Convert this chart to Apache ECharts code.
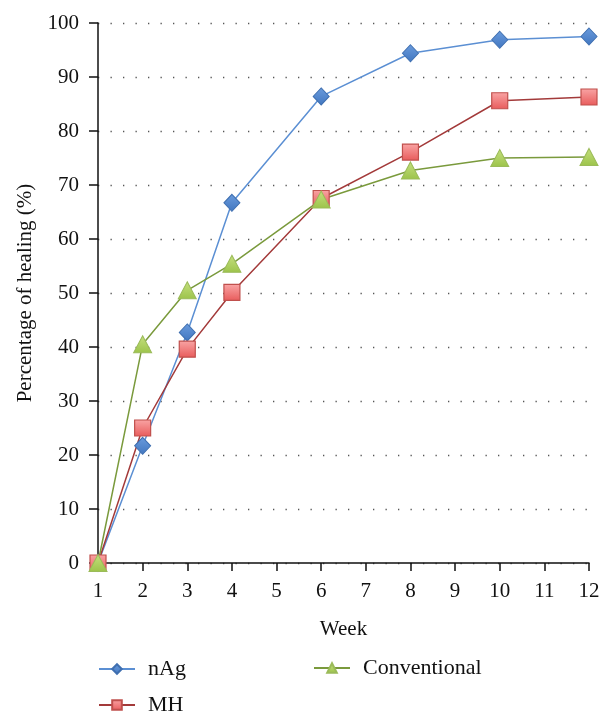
<!DOCTYPE html>
<html><head><meta charset="utf-8">
<script src="https://cdn.jsdelivr.net/npm/echarts@6/dist/echarts.min.js"></script>
<style>html,body{margin:0;padding:0;background:#fff}#c{width:612px;height:721px}</style>
</head><body><div id="c"></div>
<script>
var weeks = [1, 2, 3, 4, 6, 8, 10, 12];
var nAg = [0, 21.7, 42.7, 66.7, 86.4, 94.4, 96.9, 97.5];
var MH = [0, 25.0, 39.6, 50.1, 67.5, 76.1, 85.6, 86.3];
var conventional = [0, 40.5, 50.5, 55.4, 67.3, 72.7, 75.0, 75.2];
var yTicks = [0, 100, 10];
var xTicks = [1, 12, 1];

function pairs(v){ return weeks.map(function(w,i){ return [w, v[i]]; }); }
var F = 'Liberation Serif';
var legTxt = {fontFamily: F, fontSize: 22, color: '#111', padding: [0, 0, 0, 8]};
function leg(name, left, top){
  return {data: [name], left: left, top: top, itemWidth: 36, itemHeight: 12,
    textStyle: legTxt, selectedMode: false};
}
var chart = echarts.init(document.getElementById('c'));
chart.setOption({
  animation: false,
  textStyle: {fontFamily: F},
  grid: {left: 98, right: 23, top: 23, bottom: 158, containLabel: false},
  xAxis: {
    type: 'value', min: xTicks[0], max: xTicks[1], interval: xTicks[2],
    name: 'Week', nameLocation: 'middle', nameGap: 56,
    nameTextStyle: {fontFamily: F, fontSize: 21, color: '#111'},
    axisLine: {lineStyle: {color: '#111', width: 1.5}},
    axisTick: {show: true, length: 8, inside: false, lineStyle: {color: '#111', width: 1.5}},
    axisLabel: {fontFamily: F, fontSize: 21, color: '#111', margin: 18},
    splitLine: {show: false}
  },
  yAxis: {
    type: 'value', min: yTicks[0], max: yTicks[1], interval: yTicks[2],
    name: 'Percentage of healing (%)', nameLocation: 'middle', nameGap: 62,
    nameTextStyle: {fontFamily: F, fontSize: 21, color: '#111'},
    axisLine: {show: true, lineStyle: {color: '#111', width: 1.5}},
    axisTick: {show: true, length: 9, lineStyle: {color: '#111', width: 1.5}},
    axisLabel: {fontFamily: F, fontSize: 21, color: '#111', margin: 19},
    splitLine: {show: true, lineStyle: {color: '#555', width: 1.3, type: [1.3, 11.2]}}
  },
  legend: [leg('nAg', 93, 653), leg('MH', 93, 689), leg('Conventional', 308, 652)],
  series: [{
    name: 'nAg', type: 'line', data: pairs(nAg),
    symbol: 'diamond', symbolSize: [16, 17],
    lineStyle: {color: '#5B8FD3', width: 1.5},
    itemStyle: {color: {type: 'linear', x: 0, y: 0, x2: 0, y2: 1, colorStops: [{offset: 0, color: '#6A9BDD'}, {offset: 1, color: '#4277C0'}]}, borderColor: '#3F6FB0', borderWidth: 1}
  }, {
    name: 'MH', type: 'line', data: pairs(MH),
    symbol: 'rect', symbolSize: 16,
    lineStyle: {color: '#A33A3A', width: 1.5},
    itemStyle: {color: {type: 'linear', x: 0, y: 0, x2: 0, y2: 1, colorStops: [{offset: 0, color: '#F9A5A5'}, {offset: 1, color: '#E85B5B'}]}, borderColor: '#C0504D', borderWidth: 1.2}
  }, {
    name: 'Conventional', type: 'line', data: pairs(conventional),
    symbol: 'triangle', symbolSize: [18, 17],
    lineStyle: {color: '#7A9A3C', width: 1.5},
    itemStyle: {color: {type: 'linear', x: 0, y: 0, x2: 0, y2: 1, colorStops: [{offset: 0, color: '#C5E07E'}, {offset: 1, color: '#9CC34A'}]}, borderColor: '#9BBB59', borderWidth: 1}
  }]
});
</script></body></html>
